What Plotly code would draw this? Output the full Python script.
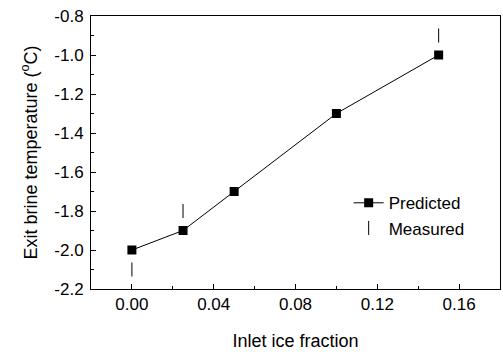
import plotly.graph_objects as go

x_pred = [0.0, 0.025, 0.05, 0.1, 0.15]
y_pred = [-2.0, -1.9, -1.7, -1.3, -1.0]
x_meas = [0.0, 0.025, 0.15]
y_meas = [-2.1, -1.8, -0.9]

x_ticks = [0.0, 0.04, 0.08, 0.12, 0.16]
x_ticklabels = ["0.00", "0.04", "0.08", "0.12", "0.16"]
y_ticks = [-2.2, -2.0, -1.8, -1.6, -1.4, -1.2, -1.0, -0.8]
y_ticklabels = ["-2.2", "-2.0", "-1.8", "-1.6", "-1.4", "-1.2", "-1.0", "-0.8"]

font = "Liberation Sans, Arial, sans-serif"

fig = go.Figure()
fig.add_trace(go.Scatter(x=x_pred, y=y_pred, mode="lines+markers", name="Predicted",
                         line=dict(color="black", width=1),
                         marker=dict(symbol="square", size=9, color="black")))
fig.add_trace(go.Scatter(x=x_meas, y=y_meas, mode="markers", name="Measured",
                         marker=dict(symbol="line-ns", size=10, color="black",
                                     line=dict(color="black", width=1))))

fig.update_layout(
    width=503, height=352,
    margin=dict(l=91, r=3, t=16, b=63),
    plot_bgcolor="white", paper_bgcolor="white",
    font=dict(family=font, size=17, color="black"),
    showlegend=True,
    legend=dict(x=0.63, y=0.38, xanchor="left", yanchor="top",
                bgcolor="rgba(0,0,0,0)", font=dict(size=17),
                tracegroupgap=0, itemwidth=30),
    xaxis=dict(range=[-0.02, 0.18], tickvals=x_ticks, ticktext=x_ticklabels,
               ticks="inside", ticklen=5, tickcolor="black",
               showline=True, linecolor="black", linewidth=1, mirror=True,
               showgrid=False, zeroline=False, tickfont=dict(size=17),
               minor=dict(tickvals=[0.02, 0.06, 0.1, 0.14], ticks="inside", ticklen=3, tickcolor="black"),
               title=dict(text="Inlet ice fraction", standoff=20, font=dict(size=18))),
    yaxis=dict(range=[-2.2, -0.8], tickvals=y_ticks, ticktext=y_ticklabels,
               ticks="inside", ticklen=5, tickcolor="black",
               showline=True, linecolor="black", linewidth=1, mirror=True,
               showgrid=False, zeroline=False, tickfont=dict(size=17),
               ticklabelstandoff=3,
               minor=dict(dtick=0.1, tick0=-2.2, ticks="inside", ticklen=3, tickcolor="black"),
               title=dict(text="Exit brine temperature (<sup>o</sup>C)", standoff=12, font=dict(size=18))),
)

fig.write_html("out.html")
